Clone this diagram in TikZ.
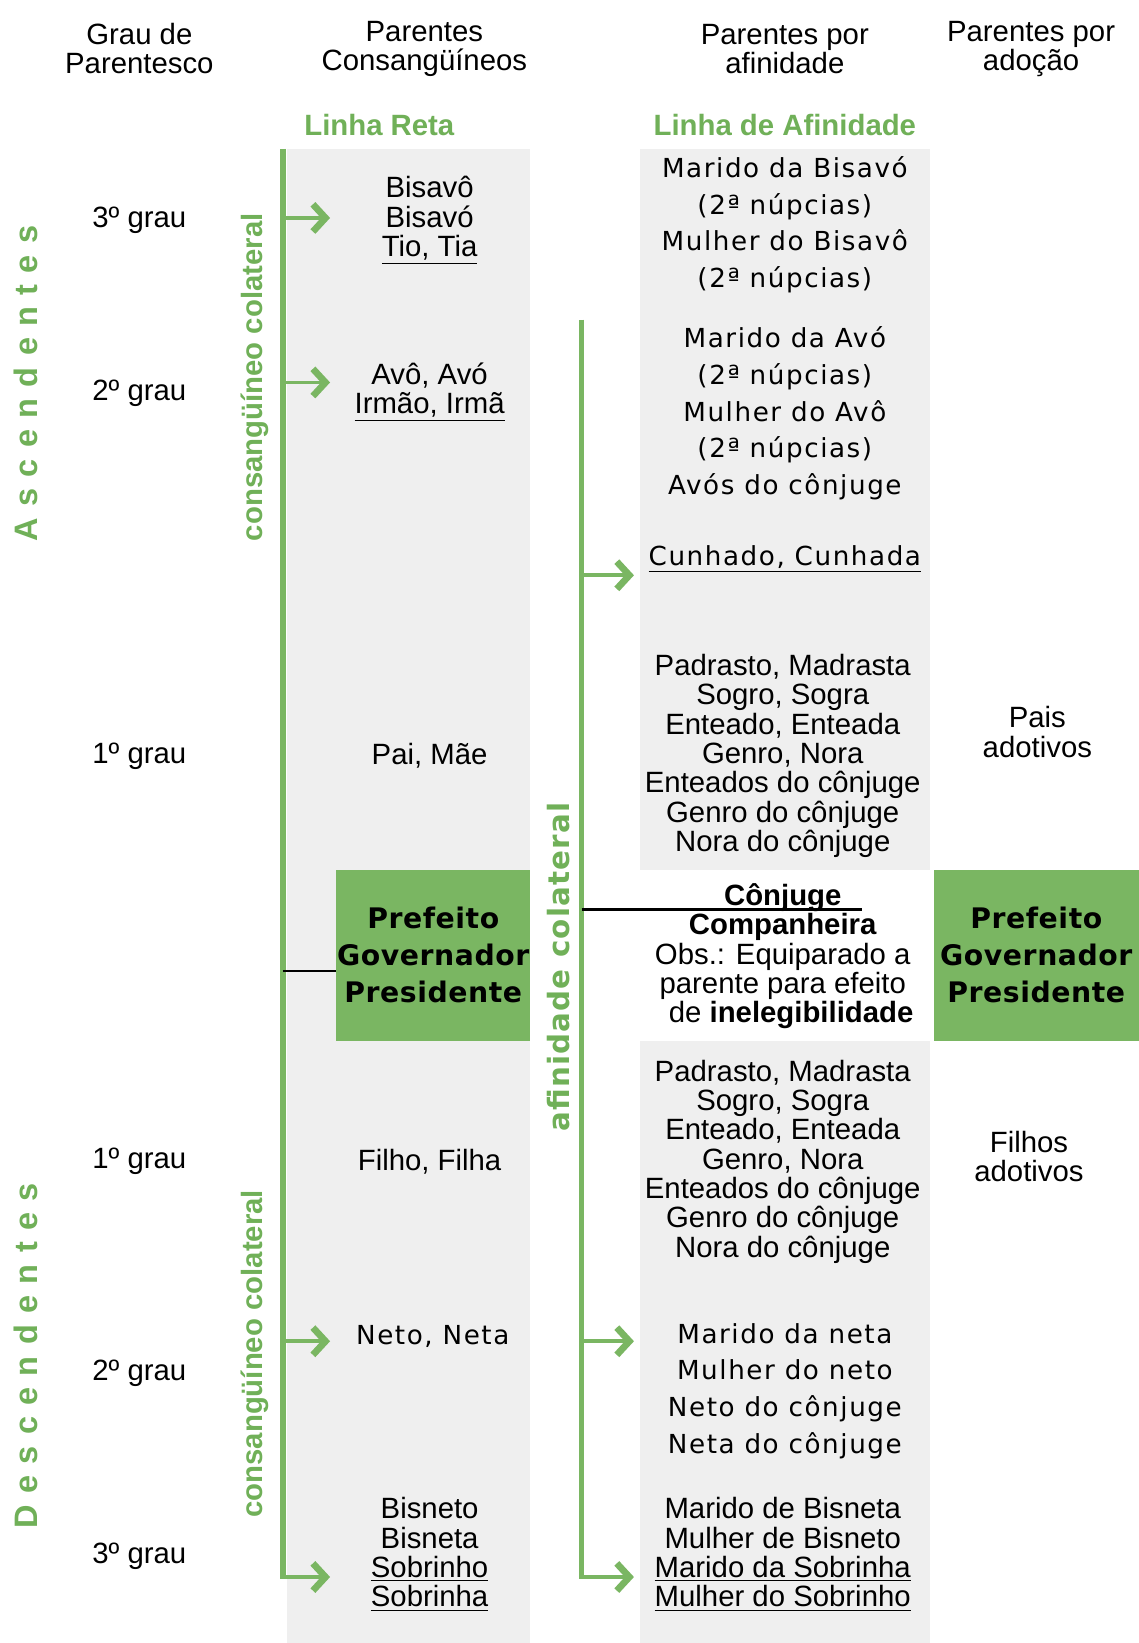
\documentclass[tikz,border=0pt]{standalone}
\usepackage{fontspec}
\setmainfont{Liberation Sans}
\newfontfamily\verd[LetterSpace=6]{DejaVu Sans}
\newfontfamily\verdb[LetterSpace=2]{DejaVu Sans}
\newfontfamily\verdc[LetterSpace=4]{DejaVu Sans}
\newfontfamily\spaced[LetterSpace=35]{Liberation Sans}
\usetikzlibrary{arrows.meta}
\definecolor{grn}{RGB}{122,182,98}
\definecolor{grnt}{RGB}{112,176,88}
\definecolor{gry}{RGB}{239,239,239}
\begin{document}
\begin{tikzpicture}[x=0.5pt,y=-0.5pt,
  txt/.style={font=\fontsize{14}{14}\selectfont, align=center, inner sep=0pt, yshift=-1.25pt},
  vtxt/.style={font=\verd\fontsize{12.5}{17.5}\selectfont, align=center, inner sep=0pt, yshift=-1pt},
  gtitle/.style={font=\bfseries\fontsize{14}{14}\selectfont, text=grnt, inner sep=0pt},
  rotlbl/.style={font=\bfseries\fontsize{14}{14}\selectfont, text=grnt, inner sep=0pt, rotate=90},
  spacedlbl/.style={font=\spaced\bfseries\fontsize{15.5}{15.5}\selectfont, text=grnt, inner sep=0pt, rotate=90},
  pfbox/.style={fill=grn, inner sep=0pt, align=center, font=\verdb\bfseries\fontsize{13.5}{17.5}\selectfont},
  gline/.style={draw=grn, line width=2.8pt},
  garrow/.style={draw=grn, line width=1.7pt, -{Straight Barb[length=6pt,width=13pt,line width'=3.2pt]}},
  bline/.style={draw=black, line width=1pt}
]
\useasboundingbox (0,0) rectangle (1087,1568);
\fill[white] (0,0) rectangle (1087,1568);
% gray columns
\fill[gry] (274,142) rectangle (506,1568);
\fill[gry] (611,142) rectangle (888,830);
\fill[gry] (611,993) rectangle (888,1568);

% headers
\node[txt] (hdr1) at (133,44) {Grau de\\Parentesco};
\node[txt] (hdr2) at (405,44) {Parentes\\Consangüíneos};
\node[txt] (hdr3) at (749,44) {Parentes por\\afinidade};
\node[txt] (hdr4) at (984,44) {Parentes por\\adoção};
\node[gtitle] (lr) at (362,119) {Linha Reta};
\node[gtitle] (la) at (749,119) {Linha de Afinidade};

% side labels
\node[spacedlbl] (asc) at (25,366) {Ascendentes};
\node[spacedlbl] (desc) at (25,1294) {Descendentes};
\node[rotlbl] (cc1) at (243,360) {consangüíneo colateral};
\node[rotlbl] (cc2) at (243,1292) {consangüíneo colateral};
\node[rotlbl, font=\verdc\bfseries\fontsize{14}{14}\selectfont] (afc) at (533,923) {afinidade colateral};

% degrees
\node[txt] (g3a) at (133,208) {3º grau};
\node[txt] (g2a) at (133,373) {2º grau};
\node[txt] (g1a) at (133,719) {1º grau};
\node[txt] (g1d) at (133,1106) {1º grau};
\node[txt] (g2d) at (133,1308) {2º grau};
\node[txt] (g3d) at (133,1483) {3º grau};

% consanguineous column
\node[txt] (bisavo) at (410,208) {Bisavô\\Bisavó\\\underline{Tio, Tia}};
\node[txt] (avo) at (410,372) {Avô, Avó\\\underline{Irmão, Irmã}};
\node[txt] (pai) at (410,719) {Pai, Mãe};
\node[txt] (filho) at (410,1106) {Filho, Filha};
\node[vtxt] (neto) at (413,1273) {Neto, Neta};
\node[txt] (bisneto) at (410,1481) {Bisneto\\Bisneta\\\underline{Sobrinho}\\\underline{Sobrinha}};

% affinity column
\node[vtxt] (mbisavo) at (749,212.5) {Marido da Bisavó\\(2ª núpcias)\\Mulher do Bisavô\\(2ª núpcias)};
\node[vtxt] (mavo) at (749,392.5) {Marido da Avó\\(2ª núpcias)\\Mulher do Avô\\(2ª núpcias)\\Avós do cônjuge};
\node[vtxt] (cunhado) at (749,532) {\underline{Cunhado, Cunhada}};
\node[txt] (padr1) at (747,719) {Padrasto, Madrasta\\Sogro, Sogra\\Enteado, Enteada\\Genro, Nora\\Enteados do cônjuge\\Genro do cônjuge\\Nora do cônjuge};
\node[txt] (conj) at (747,910) {\textbf{Cônjuge}\\\textbf{Companheira}\\Obs.: Equiparado a\\parente para efeito\\\hspace*{8pt}de \textbf{inelegibilidade}};
\node[txt] (padr2) at (747,1106) {Padrasto, Madrasta\\Sogro, Sogra\\Enteado, Enteada\\Genro, Nora\\Enteados do cônjuge\\Genro do cônjuge\\Nora do cônjuge};
\node[vtxt] (mneta) at (749,1325.5) {Marido da neta\\Mulher do neto\\Neto do cônjuge\\Neta do cônjuge};
\node[txt] (mbisneta) at (747,1481) {Marido de Bisneta\\Mulher de Bisneto\\\underline{Marido da Sobrinha}\\\underline{Mulher do Sobrinho}};

% adoption column
\node[txt] (pais) at (990,696) {Pais\\adotivos};
\node[txt] (filhos) at (982,1101) {Filhos\\adotivos};

% boxes
\node[pfbox, minimum width=92.5pt, minimum height=81.5pt] (pf1) at (413.5,911.5) {Prefeito\\Governador\\Presidente};
\node[pfbox, minimum width=98pt, minimum height=81.5pt] (pf2) at (989,911.5) {Prefeito\\Governador\\Presidente};

% line 1 (consanguineous)
\coordinate (l1top) at (270,142);
\coordinate (l1bot) at (270,1507);
\coordinate (t3a) at (315,208);
\coordinate (t2a) at (315,365);
\coordinate (t2d) at (315,1280);
\coordinate (t3d) at (315,1505);
\draw[gline] (l1top) -- (l1bot);
\draw[garrow] (t3a -| l1top) -- (t3a);
\draw[garrow] (t2a -| l1top) -- (t2a);
\draw[garrow] (t2d -| l1top) -- (t2d);
\draw[garrow] (t3d -| l1top) -- (t3d);
\coordinate (pj) at (300,927);
\draw[bline] (pj -| l1top) -- (pj -| pf1.west);

% line 2 (affinity)
\coordinate (l2top) at (555,305);
\coordinate (l2bot) at (555,1507);
\coordinate (tc) at (605,549);
\coordinate (tn) at (605,1280);
\coordinate (tb) at (605,1505);
\draw[gline] (l2top) -- (l2bot);
\draw[garrow] (tc -| l2top) -- (tc);
\draw[garrow] (tn -| l2top) -- (tn);
\draw[garrow] (tb -| l2top) -- (tb);
\coordinate (cj) at (823,868);
\draw[bline] (cj -| l2top) -- (cj);
\end{tikzpicture}
\end{document}
